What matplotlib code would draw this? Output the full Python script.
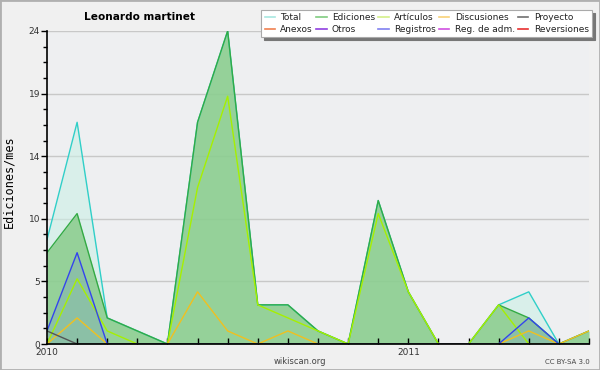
import matplotlib
matplotlib.use("Agg")
import matplotlib.pyplot as plt
from matplotlib.lines import Line2D
from matplotlib.patches import Rectangle
import numpy as np

# Months Jan 2010 .. Jul 2011
months = list(range(19))
x_labels = {0: "2010", 12: "2011"}

total       = [8, 17, 2, 1, 0, 17, 24, 3, 3, 1, 0, 11, 4, 0, 0, 3, 4, 0, 1]
ediciones   = [7, 10, 2, 1, 0, 17, 24, 3, 3, 1, 0, 11, 4, 0, 0, 3, 2, 0, 1]
articulos   = [0, 5, 1, 0, 0, 12, 19, 3, 2, 1, 0, 10, 4, 0, 0, 3, 0, 0, 0]
discusiones = [0, 2, 0, 0, 0, 4, 1, 0, 1, 0, 0, 0, 0, 0, 0, 0, 1, 0, 1]
registros   = [1, 7, 0, 0, 0, 0, 0, 0, 0, 0, 0, 0, 0, 0, 0, 0, 2, 0, 0]
proyecto    = [1, 0, 0, 0, 0, 0, 0, 0, 0, 0, 0, 0, 0, 0, 0, 0, 0, 0, 0]

legend_names = ["Total", "Ediciones", "Artículos", "Discusiones", "Proyecto",
                "Anexos", "Otros", "Registros", "Reg. de adm.", "Reversiones"]
legend_colors = ["#a8e8e0", "#80cc80", "#d4f08a", "#f8d278", "#707070",
                 "#f08050", "#9040e0", "#8080f0", "#d050e0", "#e83030"]

bg = "#eeeff1"
fig = plt.figure(figsize=(6.0, 3.7), dpi=100, facecolor="#f0f0f0")
ax = fig.add_axes([47/600, 1-344/370, (589-47)/600, (344-31)/370])
ax.set_facecolor(bg)

x = np.array(months)
# Total
ax.fill_between(x, total, color="#ccefe6", alpha=0.6, lw=0, zorder=1)
ax.plot(x, total, color="#30cfc8", lw=1.0, zorder=3)
# Ediciones
ax.fill_between(x, ediciones, color="#7ec77e", alpha=0.75, lw=0, zorder=1.1)
ax.plot(x, ediciones, color="#33aa44", lw=1.0, zorder=3.1)
# Artículos
ax.plot(x, articulos, color="#a6f000", lw=1.0, zorder=3.2)
# Discusiones
ax.plot(x, discusiones, color="#f0c020", lw=1.0, zorder=3.3)
# Registros
ax.fill_between(x, registros, color="#7090d0", alpha=0.25, lw=0, zorder=1.2)
ax.plot(x, registros, color="#3344ee", lw=1.0, zorder=3.4)
# Proyecto
ax.plot(x, proyecto, color="#555555", lw=1.0, zorder=3.5)

ax.set_xlim(0, 18)
ax.set_ylim(0, 24)

yt = [24*k/5 for k in range(6)]
ax.set_yticks(yt)
ax.set_yticklabels([str(int(round(v))) for v in yt])
ax.set_yticks(np.arange(0, 24.01, 1.2), minor=True)
ax.set_xticks(months)
ax.set_xticklabels([x_labels.get(m, "") for m in months])

ax.tick_params(axis="y", which="major", direction="out", length=4, width=1,
               labelsize=6.5, colors="black", labelcolor="#333333", pad=1)
ax.tick_params(axis="y", which="minor", direction="out", length=3, width=1)
ax.tick_params(axis="x", which="major", direction="in", length=4, width=1,
               labelsize=6.5, labelcolor="#333333", pad=3)

for v in yt[1:]:
    ax.axhline(v, color="#c8c8c8", lw=1.0, zorder=0.5)

for s in ["top", "right"]:
    ax.spines[s].set_visible(False)
for s in ["left", "bottom"]:
    ax.spines[s].set_linewidth(1.2)
    ax.spines[s].set_zorder(5)

ax.set_ylabel("Ediciones/mes", fontsize=8.5, family="DejaVu Sans Mono")
ax.yaxis.set_label_coords((15-47)/542, 0.52)

fig.text(139/600, 1-17/370, "Leonardo martinet", fontsize=7.6, fontweight="bold",
         ha="center", va="center")
fig.text(300/600, 1-362/370, "wikiscan.org", fontsize=6, color="#444444",
         ha="center", va="center")
fig.text(590/600, 1-362/370, "CC BY-SA 3.0", fontsize=5, color="#444444",
         ha="right", va="center")

# legend (column-major order for ncol=5)
handles = [Line2D([], [], color=c, lw=1.2) for c in legend_colors]
order = []
for col in range(5):
    order += [col, col + 5]
leg = fig.legend([handles[i] for i in order], [legend_names[i] for i in order],
                 ncol=5, loc="upper right", bbox_to_anchor=(592/600, 1-10/370),
                 fontsize=6.5, frameon=True, fancybox=False,
                 shadow={"color": "#777777", "alpha": 1.0},
                 handlelength=1.15, handletextpad=0.6, columnspacing=0.35,
                 labelspacing=0.3, borderpad=0.35, borderaxespad=0)
leg.get_frame().set_edgecolor("#aaaaaa")
leg.get_frame().set_linewidth(0.8)
for t in leg.get_texts():
    t.set_color("#222222")

fig.add_artist(Rectangle((0, 0), 1, 1, transform=fig.transFigure, fill=False,
                         edgecolor="#b0b0b0", lw=2))

fig.savefig("out.png", dpi=100, facecolor=fig.get_facecolor())
